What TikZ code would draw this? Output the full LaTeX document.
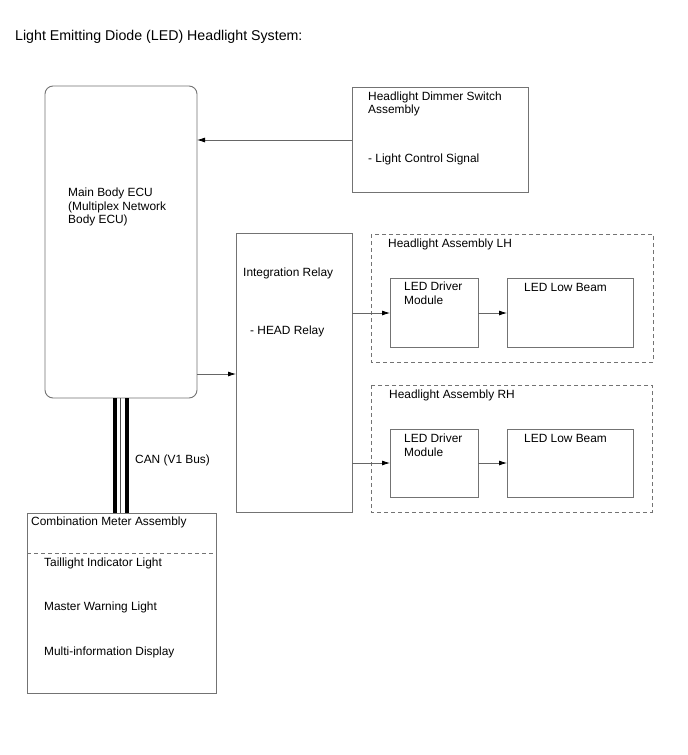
\documentclass[tikz,border=0pt]{standalone}
\usepackage{fontspec}
\setmainfont{Liberation Sans}
\usetikzlibrary{arrows.meta}
\begin{document}
\begin{tikzpicture}[x=1pt,y=-1pt,
  every node/.style={font=\fontsize{11.9}{13.8}\selectfont, inner sep=0pt, text=black},
  txt/.style={anchor=west, align=left},
  boxline/.style={draw=black!55, line width=0.9pt},
  dashbox/.style={draw=black!55, line width=0.8pt, dash pattern=on 4pt off 3pt},
  conn/.style={draw=black!60, line width=0.8pt, -{Latex[length=8pt,width=5pt,color=black]}},
  canwide/.style={draw=black, line width=4pt},
  canthin/.style={draw=black!70, line width=1.2pt}]
\useasboundingbox (0,0) rectangle (688,755);
\fill[white] (0,0) rectangle (688,755);
% title
\node[txt, font=\fontsize{14.2}{16}\selectfont] (title) at (15,37) {Light Emitting Diode (LED) Headlight System:};
% Main Body ECU
\draw[boxline, rounded corners=8pt] (45,86) rectangle (197,398);
\coordinate (ecuR1) at (197,140);
\coordinate (ecuR2) at (197,374);
\node[txt] (ecu) at (68,207) {Main Body ECU\\(Multiplex Network\\Body ECU)};
% Dimmer switch
\draw[boxline] (352,87) rectangle (528,192);
\coordinate (dimL) at (352,140);
\node[txt] (dim1) at (368,104) {Headlight Dimmer Switch\\Assembly};
\node[txt] (dim2) at (368,159) {- Light Control Signal};
% Integration relay
\draw[boxline] (236,233) rectangle (352,512);
\coordinate (relL) at (236,374);
\coordinate (relR1) at (352,313);
\coordinate (relR2) at (352,463);
\node[txt] (rel1) at (243,273) {Integration Relay};
\node[txt] (rel2) at (250,331) {- HEAD Relay};
% LH assembly
\draw[dashbox] (371,234) rectangle (653,362);
\node[txt] (lhlab) at (388,244) {Headlight Assembly LH};
\draw[boxline] (390,278) rectangle (478,347);
\coordinate (drvLHL) at (390,313);
\coordinate (drvLHR) at (478,313);
\node[txt] (drvLH) at (404,293) {LED Driver\\Module};
\draw[boxline] (507,278) rectangle (633,347);
\coordinate (lbLHL) at (507,313);
\node[txt] (lbLH) at (524,287) {LED Low Beam};
% RH assembly
\draw[dashbox] (371,385) rectangle (652,512);
\node[txt] (rhlab) at (389,395) {Headlight Assembly RH};
\draw[boxline] (390,429) rectangle (478,497);
\coordinate (drvRHL) at (390,463);
\coordinate (drvRHR) at (478,463);
\node[txt] (drvRH) at (404,445) {LED Driver\\Module};
\draw[boxline] (507,429) rectangle (633,497);
\coordinate (lbRHL) at (507,463);
\node[txt] (lbRH) at (524,438) {LED Low Beam};
% Combination meter
\draw[boxline] (27,513) rectangle (216,693);
\draw[dashbox] (27,553) -- (216,553);
\node[txt] (cm) at (31,522) {Combination Meter Assembly};
\node[txt] (cm1) at (44,563) {Taillight Indicator Light};
\node[txt] (cm2) at (44,607) {Master Warning Light};
\node[txt] (cm3) at (44,652) {Multi-information Display};
% connectors
\draw[conn] (dimL) -- (ecuR1);
\draw[conn] (ecuR2) -- (relL);
\draw[conn] (relR1) -- (drvLHL);
\draw[conn] (drvLHR) -- (lbLHL);
\draw[conn] (relR2) -- (drvRHL);
\draw[conn] (drvRHR) -- (lbRHL);
% CAN bus
\coordinate (canT) at (120.5,398);
\coordinate (canB) at (120.5,513);
\draw[canwide] ([xshift=-5.2pt]canT) -- ([xshift=-5.2pt]canB);
\draw[canthin] (canT) -- (canB);
\draw[canwide] ([xshift=6.7pt]canT) -- ([xshift=6.7pt]canB);
\node[txt] (can) at (135,460) {CAN (V1 Bus)};
\end{tikzpicture}
\end{document}
